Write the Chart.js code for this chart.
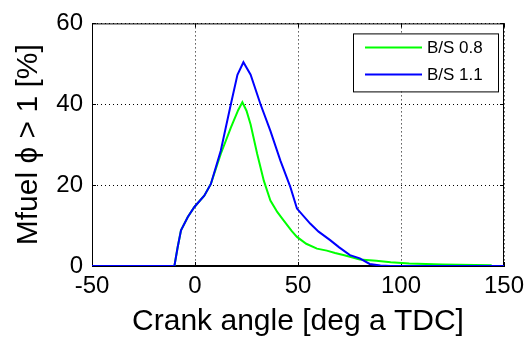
<!DOCTYPE html>
<html>
<head>
<meta charset="utf-8">
<script src="https://cdn.jsdelivr.net/npm/chart.js@4.4.1/dist/chart.umd.min.js"></script>
<style>
  html, body { margin: 0; padding: 0; background: #fff; }
  #wrap { width: 531px; height: 340px; }
</style>
</head>
<body>
<div id="wrap"><canvas id="mfuelChart" width="531" height="340"></canvas></div>
<script>
// crank angle [deg a TDC] and fuel mass fraction with phi > 1 [%]
const labels = ['B/S 0.8', 'B/S 1.1'];
const colors = ['#00ff00', '#0000ff'];

const angleBS08 = [-50, -10, -8.4, -6.8, -3.5, -0.3, 4.5, 7.7, 12.5, 17.4, 21, 23, 25, 27, 30.2, 33.4, 36.6, 40, 43, 47, 49.5, 54, 59.2, 64, 68, 72, 75.2, 80, 88, 95, 104, 120, 144];
const mfuelBS08 = [0, 0, 4.7, 8.8, 12.1, 14.6, 17.4, 20.3, 27.7, 34.2, 38.6, 40.5, 38.4, 35, 27.7, 21.1, 16.2, 13.3, 11.3, 8.6, 7.2, 5.5, 4.3, 3.8, 3.2, 2.7, 2.3, 1.6, 1.3, 0.9, 0.6, 0.4, 0.2];

const angleBS11 = [-50, -10, -8.4, -6.8, -3.5, -0.3, 4.5, 7.7, 12.5, 17.4, 20.6, 23.5, 27, 31.8, 36.6, 41.5, 46.3, 49.5, 55.9, 60, 65.6, 70, 75.2, 80, 84.8, 90, 95, 150];
const mfuelBS11 = [0, 0, 4.7, 8.8, 12.1, 14.6, 17.4, 20.3, 28.5, 40, 47.3, 50.4, 47.3, 40, 33.4, 26, 19.5, 14.2, 10.5, 8.5, 6.4, 4.6, 2.7, 1.9, 0.5, 0.1, 0, 0];

const xTicks = [-50, 0, 50, 100, 150];
const yTicks = [0, 20, 40, 60];

function toPoints(xs, ys) {
  return xs.map((x, i) => ({ x: x, y: ys[i] }));
}

// box around the plot plus the short inward tick marks
const framePlugin = {
  id: 'frame',
  beforeDatasetsDraw(chart) {
    const { ctx, chartArea: a, scales } = chart;
    ctx.save();
    ctx.strokeStyle = '#000';
    ctx.lineWidth = 1;
    ctx.strokeRect(a.left + 0.5, a.top + 0.5, a.right - a.left - 1, a.bottom - a.top - 1);
    ctx.beginPath();
    xTicks.forEach(v => {
      const px = Math.round(scales.x.getPixelForValue(v)) + 0.5;
      ctx.moveTo(px, a.bottom); ctx.lineTo(px, a.bottom - 4);
      ctx.moveTo(px, a.top); ctx.lineTo(px, a.top + 4);
    });
    yTicks.forEach(v => {
      const py = Math.round(scales.y.getPixelForValue(v)) + 0.5;
      ctx.moveTo(a.left, py); ctx.lineTo(a.left + 4, py);
      ctx.moveTo(a.right, py); ctx.lineTo(a.right - 4, py);
    });
    ctx.stroke();
    ctx.restore();
  },
  afterDatasetsDraw(chart) {
    // legend box in the upper right corner of the plot
    const { ctx, chartArea: a } = chart;
    const w = 145, h = 58;
    const bx = a.right - 6 - w, by = a.top + 10;
    ctx.save();
    ctx.fillStyle = '#fff';
    ctx.fillRect(bx, by, w, h);
    ctx.strokeStyle = '#000';
    ctx.lineWidth = 1;
    ctx.strokeRect(bx + 0.5, by + 0.5, w, h);
    ctx.font = '17px "Liberation Sans", Arial, sans-serif';
    ctx.textBaseline = 'middle';
    chart.data.datasets.forEach((ds, i) => {
      const ly = by + 14 + i * 27;
      ctx.strokeStyle = ds.borderColor;
      ctx.lineWidth = 2;
      ctx.beginPath();
      ctx.moveTo(bx + 12, ly);
      ctx.lineTo(bx + 69, ly);
      ctx.stroke();
      ctx.fillStyle = '#000';
      ctx.fillText(ds.label, bx + 74, ly + 1);
    });
    ctx.restore();
  }
};

const gridStyle = {
  color: '#000',
  lineWidth: 1,
  drawTicks: false
};

new Chart(document.getElementById('mfuelChart').getContext('2d'), {
  type: 'line',
  data: {
    datasets: [
      {
        label: labels[0],
        data: toPoints(angleBS08, mfuelBS08),
        borderColor: colors[0],
        borderWidth: 2,
        pointRadius: 0,
        tension: 0,
        fill: false
      },
      {
        label: labels[1],
        data: toPoints(angleBS11, mfuelBS11),
        borderColor: colors[1],
        borderWidth: 2,
        pointRadius: 0,
        tension: 0,
        fill: false,
        order: -1
      }
    ]
  },
  options: {
    responsive: false,
    animation: false,
    devicePixelRatio: 1,
    layout: { padding: { left: 0, top: 22, right: 27, bottom: 0 } },
    plugins: {
      legend: { display: false },
      tooltip: { enabled: false }
    },
    scales: {
      x: {
        type: 'linear',
        min: -50,
        max: 150,
        afterBuildTicks: s => { s.ticks = xTicks.map(v => ({ value: v })); },
        afterFit: s => { s.height = 74; },
        grid: Object.assign({ borderDash: [1, 3] }, gridStyle),
        border: { color: '#000', width: 1, dash: [1, 3] },
        ticks: {
          color: '#000',
          padding: 6,
          maxRotation: 0,
          font: { family: '"Liberation Sans", Arial, sans-serif', size: 24 }
        },
        title: {
          display: true,
          text: 'Crank angle [deg a TDC]',
          color: '#000',
          padding: { top: 0, bottom: 0 },
          font: { family: '"Liberation Sans", Arial, sans-serif', size: 30 }
        }
      },
      y: {
        min: 0,
        max: 60,
        afterBuildTicks: s => { s.ticks = yTicks.map(v => ({ value: v })); },
        afterFit: s => { s.width = 92; },
        grid: gridStyle,
        border: { color: '#000', width: 1, dash: [1, 3] },
        ticks: {
          color: '#000',
          padding: 9,
          font: { family: '"Liberation Sans", Arial, sans-serif', size: 24 }
        },
        title: {
          display: true,
          text: 'Mfuel \u03d5 > 1 [%]',
          color: '#000',
          padding: { top: 11, bottom: 0 },
          font: { family: '"Liberation Sans", Arial, sans-serif', size: 30 }
        }
      }
    }
  },
  plugins: [framePlugin]
});
</script>
</body>
</html>
